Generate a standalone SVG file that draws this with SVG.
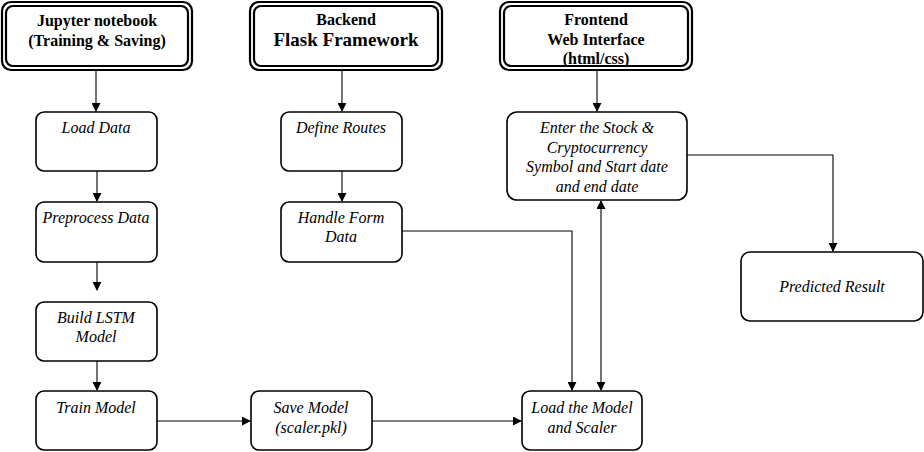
<svg xmlns="http://www.w3.org/2000/svg" width="924" height="452" viewBox="0 0 924 452">
<style>
.hdr{fill:#fff;stroke:#000;stroke-width:2.2}
.box{fill:#fff;stroke:#000;stroke-width:1.6}
.ht{font-family:"Liberation Serif","Times New Roman",serif;font-weight:bold;font-size:16px;fill:#000;text-anchor:middle}
.big{font-size:19px}
.bt{font-family:"Liberation Serif","Times New Roman",serif;font-style:italic;font-size:16px;fill:#000;text-anchor:middle}
.con{fill:none;stroke:#000;stroke-width:1.1}
</style>
<defs>
<marker id="arr" viewBox="0 0 10 10" refX="9" refY="5" markerWidth="9" markerHeight="9" markerUnits="userSpaceOnUse" orient="auto-start-reverse">
<path d="M0,0 L10,5 L0,10 z" fill="#000"/>
</marker>
</defs>
<g id="connectors">
<path class="con" d="M96 70 V111" marker-end="url(#arr)"/>
<path class="con" d="M342 70 V111" marker-end="url(#arr)"/>
<path class="con" d="M597 70 V111" marker-end="url(#arr)"/>
<path class="con" d="M97 171 V201" marker-end="url(#arr)"/>
<path class="con" d="M97 262 V290" marker-end="url(#arr)"/>
<path class="con" d="M97 361 V390" marker-end="url(#arr)"/>
<path class="con" d="M342 171 V201" marker-end="url(#arr)"/>
<path class="con" d="M157 421 H250" marker-end="url(#arr)"/>
<path class="con" d="M372 421 H521" marker-end="url(#arr)"/>
<path class="con" d="M402 231 H572 V390" marker-end="url(#arr)"/>
<path class="con" d="M687 155 H833 V251" marker-end="url(#arr)"/>
<path class="con" d="M601 201 V390" marker-start="url(#arr)" marker-end="url(#arr)"/>
</g>
<g id="jupyter">
<rect class="hdr" x="2" y="2" width="190" height="68" rx="9"/>
<rect class="hdr" x="6" y="6" width="182" height="60" rx="7"/>
<text class="ht" x="97" y="26">Jupyter notebook</text>
<text class="ht" x="97" y="46">(Training &amp; Saving)</text>
</g>
<g id="backend">
<rect class="hdr" x="250" y="2" width="192" height="68" rx="9"/>
<rect class="hdr" x="254" y="6" width="184" height="60" rx="7"/>
<text class="ht" x="346" y="25">Backend</text>
<text class="ht big" x="346" y="46">Flask Framework</text>
</g>
<g id="frontend">
<rect class="hdr" x="500" y="2" width="192" height="68" rx="9"/>
<rect class="hdr" x="504" y="6" width="184" height="60" rx="7"/>
<text class="ht" x="596" y="25">Frontend</text>
<text class="ht" x="596" y="45">Web Interface</text>
<text class="ht" x="596" y="64">(html/css)</text>
</g>
<g id="load-data">
<rect class="box" x="36" y="112" width="121" height="59" rx="8"/>
<text class="bt" x="96" y="133">Load Data</text>
</g>
<g id="preprocess">
<rect class="box" x="36" y="202" width="121" height="60" rx="8"/>
<text class="bt" x="96" y="223">Preprocess Data</text>
</g>
<g id="build-lstm">
<rect class="box" x="36" y="302" width="121" height="59" rx="8"/>
<text class="bt" x="96" y="323">Build LSTM</text>
<text class="bt" x="96" y="342">Model</text>
</g>
<g id="train-model">
<rect class="box" x="36" y="391" width="121" height="59" rx="8"/>
<text class="bt" x="96" y="413">Train Model</text>
</g>
<g id="save-model">
<rect class="box" x="251" y="391" width="121" height="59" rx="8"/>
<text class="bt" x="311" y="413">Save Model</text>
<text class="bt" x="311" y="433">(scaler.pkl)</text>
</g>
<g id="define-routes">
<rect class="box" x="281" y="112" width="121" height="59" rx="8"/>
<text class="bt" x="341" y="133">Define Routes</text>
</g>
<g id="handle-form">
<rect class="box" x="281" y="202" width="121" height="60" rx="8"/>
<text class="bt" x="341" y="223">Handle Form</text>
<text class="bt" x="341" y="242">Data</text>
</g>
<g id="enter-stock">
<rect class="box" x="507" y="112" width="180" height="88" rx="10"/>
<text class="bt" x="597" y="133">Enter the Stock &amp;</text>
<text class="bt" x="597" y="153">Cryptocurrency</text>
<text class="bt" x="597" y="172">Symbol and Start date</text>
<text class="bt" x="597" y="192">and end date</text>
</g>
<g id="predicted">
<rect class="box" x="741" y="252" width="182" height="69" rx="9"/>
<text class="bt" x="832" y="292">Predicted Result</text>
</g>
<g id="load-model">
<rect class="box" x="522" y="391" width="120" height="59" rx="8"/>
<text class="bt" x="582" y="413">Load the Model</text>
<text class="bt" x="582" y="433">and Scaler</text>
</g>
</svg>
